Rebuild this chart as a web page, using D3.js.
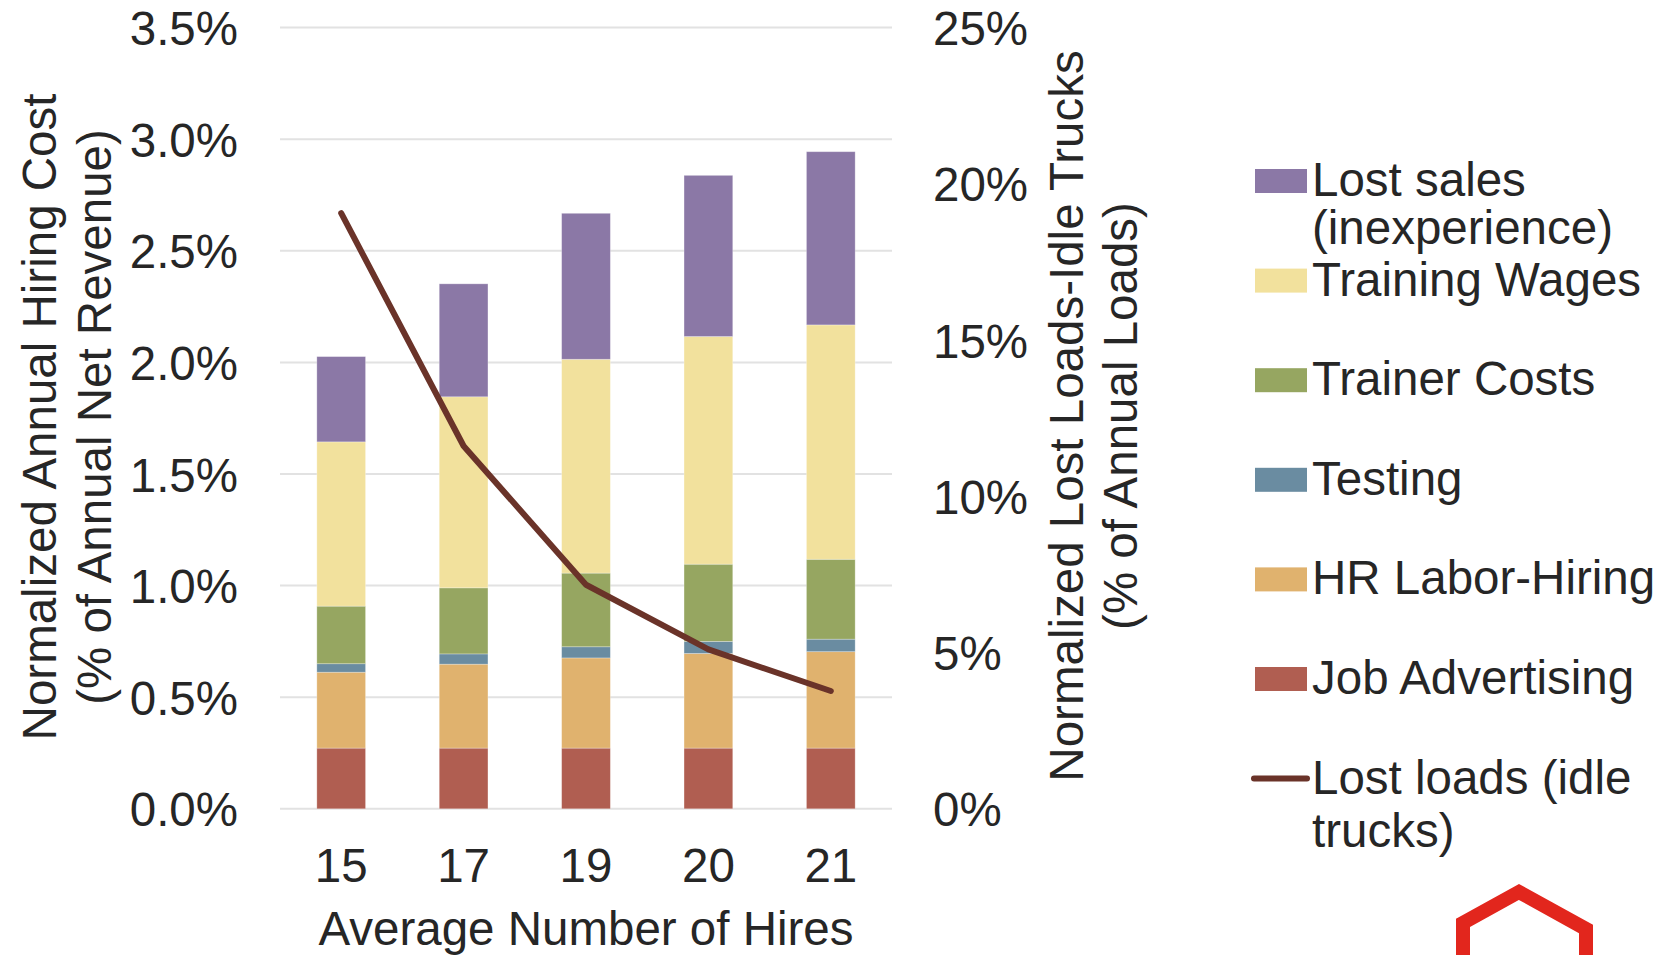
<!DOCTYPE html>
<html>
<head>
<meta charset="utf-8">
<script src="https://cdn.jsdelivr.net/npm/d3@7"></script>
<style>
  html, body { margin: 0; padding: 0; background: #ffffff; }
  svg { display: block; }
  text { font-family: "Liberation Sans", Arial, Helvetica, sans-serif; fill: #262626; }
</style>
</head>
<body>
<svg id="chart" width="1664" height="955"></svg>
<script>
// Average number of hires (x categories)
const hires = ["15", "17", "19", "20", "21"];

// Hiring cost components, % of annual net revenue (stacked bottom to top)
const jobAdvertising = [0.272, 0.272, 0.272, 0.272, 0.272];
const hrLaborHiring  = [0.340, 0.376, 0.404, 0.424, 0.432];
const testing        = [0.038, 0.046, 0.050, 0.054, 0.056];
const trainerCosts   = [0.258, 0.296, 0.330, 0.346, 0.358];
const trainingWages  = [0.736, 0.856, 0.958, 1.020, 1.050];
const lostSales      = [0.382, 0.506, 0.654, 0.722, 0.776];

// Lost loads from idle trucks, % of annual loads (right axis)
const lostLoads = [19.06, 11.61, 7.17, 5.10, 3.77];

// Axis ticks
const leftTicks  = [0, 0.5, 1.0, 1.5, 2.0, 2.5, 3.0, 3.5];
const rightTicks = [0, 5, 10, 15, 20, 25];

// Series definitions, stacking order bottom -> top
const seriesKeys   = ["jobAdvertising", "hrLaborHiring", "testing", "trainerCosts", "trainingWages", "lostSales"];
const seriesValues = [jobAdvertising, hrLaborHiring, testing, trainerCosts, trainingWages, lostSales];
const seriesColors = ["#B05E51", "#E0B26E", "#6A8CA1", "#96A661", "#F2E19D", "#8B78A6"];
const lineColor = "#6A3329";

// Legend entries, top -> bottom
const legendLabels = [
  ["Lost sales", "(inexperience)"],
  ["Training Wages"],
  ["Trainer Costs"],
  ["Testing"],
  ["HR Labor-Hiring"],
  ["Job Advertising"],
  ["Lost loads (idle", "trucks)"]
];
const legendColors = ["#8B78A6", "#F2E19D", "#96A661", "#6A8CA1", "#E0B26E", "#B05E51", lineColor];

const svg = d3.select("#chart");
const FS = 47.5;

const plot = { left: 280, right: 892, top: 27.6, bottom: 808.8 };

// Rows for the stack
const rows = hires.map((h, i) => {
  const r = { hires: h };
  seriesKeys.forEach((k, j) => { r[k] = seriesValues[j][i]; });
  return r;
});
const stacked = d3.stack().keys(seriesKeys)(rows);

const x = d3.scaleBand().domain(hires).range([plot.left, plot.right])
  .paddingInner(0.602).paddingOuter(0.301);
const yL = d3.scaleLinear().domain([0, 3.5]).range([plot.bottom, plot.top]);
const yR = d3.scaleLinear().domain([0, 25]).range([plot.bottom, plot.top]);

// Gridlines
svg.append("g").selectAll("line").data(leftTicks).join("line")
  .attr("x1", plot.left).attr("x2", plot.right)
  .attr("y1", d => yL(d)).attr("y2", d => yL(d))
  .attr("stroke", "#e2e2e2").attr("stroke-width", 2);

// Stacked bars
svg.append("g").selectAll("g").data(stacked).join("g")
  .attr("fill", (d, i) => seriesColors[i])
  .selectAll("rect").data(d => d).join("rect")
  .attr("x", d => x(d.data.hires))
  .attr("width", x.bandwidth())
  .attr("y", d => yL(d[1]))
  .attr("height", d => yL(d[0]) - yL(d[1]))
  .attr("stroke", "rgba(255,255,255,0.35)")
  .attr("stroke-width", 0.8);

// Lost loads line
const line = d3.line()
  .x((d, i) => x(hires[i]) + x.bandwidth() / 2)
  .y(d => yR(d));
svg.append("path").datum(lostLoads)
  .attr("d", line)
  .attr("fill", "none")
  .attr("stroke", lineColor)
  .attr("stroke-width", 6)
  .attr("stroke-linejoin", "round")
  .attr("stroke-linecap", "round");

// Left axis labels
const leftAxis = d3.axisLeft(yL).tickValues(leftTicks).tickFormat(d => d.toFixed(1) + "%").tickSize(0).tickPadding(0);
const gL = svg.append("g").attr("transform", "translate(238,0)").call(leftAxis);
gL.select(".domain").remove();
gL.selectAll("text").attr("font-size", FS).attr("font-family", null).attr("fill", "#262626").attr("dy", "0.36em");

// Right axis labels
const rightAxis = d3.axisRight(yR).tickValues(rightTicks).tickFormat(d => d + "%").tickSize(0).tickPadding(0);
const gR = svg.append("g").attr("transform", "translate(933,0)").call(rightAxis);
gR.select(".domain").remove();
gR.selectAll("text").attr("font-size", FS).attr("font-family", null).attr("fill", "#262626").attr("dy", "0.36em");

// Bottom axis labels
const bottomAxis = d3.axisBottom(x).tickSize(0).tickPadding(0);
const gB = svg.append("g").attr("transform", "translate(0,882)").call(bottomAxis);
gB.select(".domain").remove();
gB.selectAll("text").attr("font-size", FS).attr("font-family", null).attr("fill", "#262626").attr("dy", 0).attr("y", 0);

// Axis titles
svg.append("text").attr("x", 586).attr("y", 945).attr("text-anchor", "middle")
  .attr("font-size", FS).text("Average Number of Hires");

const leftTitle = [["Normalized Annual Hiring Cost", 56], ["(% of Annual Net Revenue)", 111]];
leftTitle.forEach(([t, bx]) => {
  svg.append("text").attr("transform", `translate(${bx},417) rotate(-90)`)
    .attr("text-anchor", "middle").attr("font-size", FS).text(t);
});
const rightTitle = [["Normalized Lost Loads-Idle Trucks", 1083], ["(% of Annual Loads)", 1137]];
rightTitle.forEach(([t, bx]) => {
  svg.append("text").attr("transform", `translate(${bx},416) rotate(-90)`)
    .attr("text-anchor", "middle").attr("font-size", FS).text(t);
});

// Legend
const legendTop = 181, legendStep = 99.6;
const lg = svg.append("g");
legendLabels.forEach((lines, i) => {
  const cy = legendTop + i * legendStep;
  const lineGap = i === 0 ? 48 : 53;
  if (i === legendLabels.length - 1) {
    lg.append("line").attr("x1", 1254).attr("x2", 1307).attr("y1", cy).attr("y2", cy)
      .attr("stroke", legendColors[i]).attr("stroke-width", 6).attr("stroke-linecap", "round");
  } else {
    lg.append("rect").attr("x", 1255).attr("y", cy - 12).attr("width", 52).attr("height", 24)
      .attr("fill", legendColors[i]);
  }
  lines.forEach((t, k) => {
    lg.append("text").attr("x", 1312).attr("y", cy + 15 + k * lineGap)
      .attr("font-size", FS).text(t);
  });
});

// Red house-shaped emblem at the lower right corner
svg.append("path")
  .attr("d", "M1463,960 L1463,923 L1519,892 L1586,929 L1586,960")
  .attr("fill", "none").attr("stroke", "#E2261D").attr("stroke-width", 14)
  .attr("stroke-linejoin", "miter");
</script>
</body>
</html>
